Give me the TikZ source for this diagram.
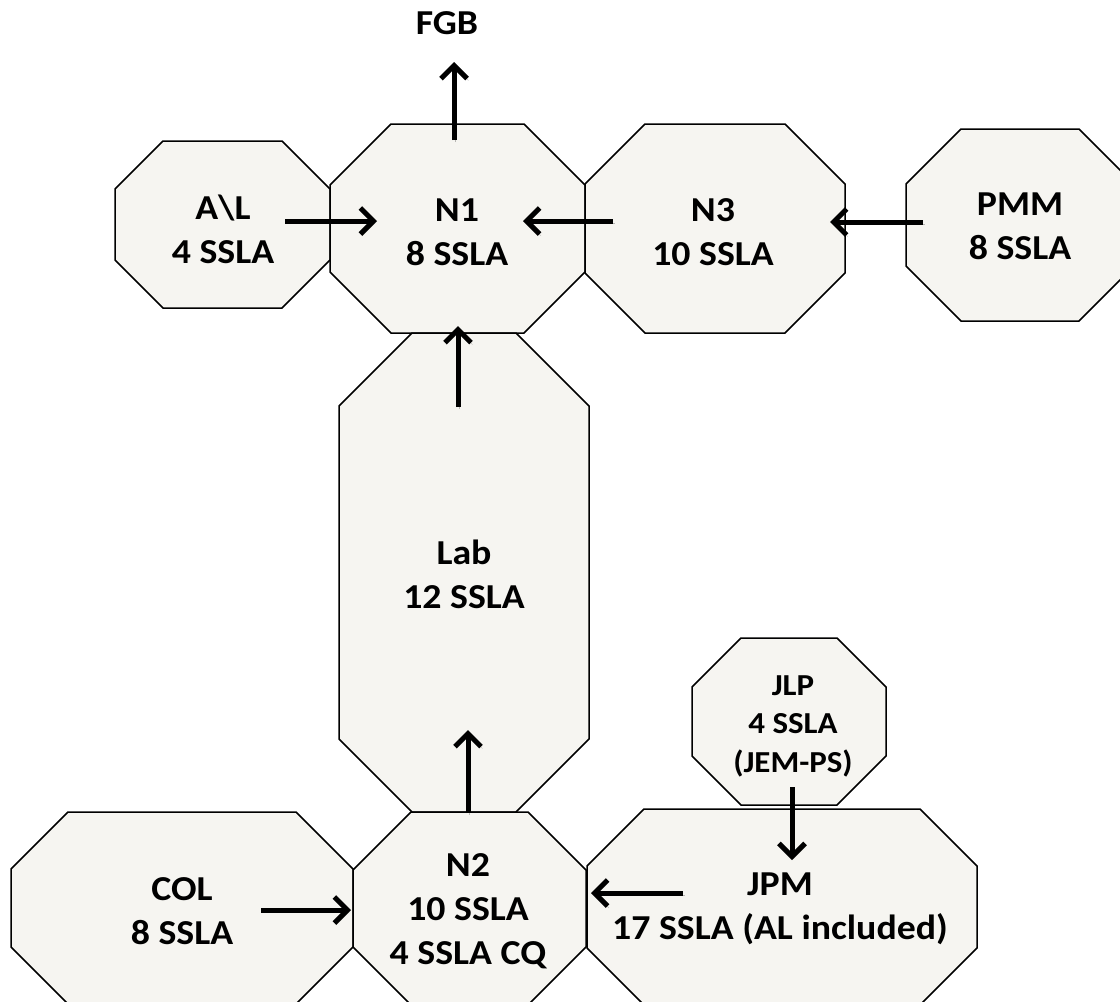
\documentclass[tikz,border=0pt]{standalone}
\usepackage{fontspec}
\setmainfont{Carlito}[FakeStretch=1.08]
\usetikzlibrary{arrows.meta,calc}
\definecolor{octfill}{RGB}{246,245,241}
\tikzset{
  oct/.style={draw=black, line width=1.5pt, fill=octfill, line join=miter},
  lbl/.style={align=center, font=\fontsize{35}{44}\selectfont\bfseries, inner sep=0pt},
  lblsmall/.style={align=center, font=\fontsize{30.5}{38.5}\selectfont\bfseries, inner sep=0pt},
  arr/.style={line width=5pt, -{Straight Barb[length=13pt,width=26pt]},
    preaction={draw=black, opacity=0.25, transform canvas={shift={(1.5pt,-2pt)}}}},
}
\newcommand\oct[5]{\path[oct] (#1+#5,#2) -- (#3-#5,#2) -- (#3,#2+#5) -- (#3,#4-#5) -- (#3-#5,#4) -- (#1+#5,#4) -- (#1,#4-#5) -- (#1,#2+#5) -- cycle;}
\begin{document}
\begin{tikzpicture}[x=1pt,y=-1pt]
\useasboundingbox (0,0) rectangle (1120,1002);
\clip (0,0) rectangle (1120,1002);
% octagons
\oct{115}{141}{330}{308}{48}
\oct{330}{124}{585}{333}{61}
\oct{585}{124}{845}{333}{60}
\oct{906}{129}{1134}{321}{55}
\oct{339}{333}{589}{812}{73}
\oct{692}{638}{886}{805}{49}
\oct{11}{812}{353}{1004}{57}
\oct{353}{812}{586}{1005}{58}
\oct{587}{809}{977}{1005}{57}
% labels
\node[lbl] (FGB) at (447,23) {FGB};
\node[lbl] (AL) at (223,229) {A\textbackslash L\\4 SSLA};
\node[lbl] (N1) at (457,232) {N1\\8 SSLA};
\node[lbl] (N3) at (713,232) {N3\\10 SSLA};
\node[lbl] (PMM) at (1020,226) {PMM\\8 SSLA};
\node[lbl] (Lab) at (464,574) {Lab\\12 SSLA};
\node[lblsmall] (JLP) at (793,726) {JLP\\4 SSLA\\(JEM-PS)};
\node[lbl] (COL) at (182,911) {COL\\8 SSLA};
\node[lbl] (N2) at (468,911) {N2\\10 SSLA\\4 SSLA CQ};
\node[lbl] (JPM) at (780,909) {JPM\\17 SSLA (AL included)};
% connectors
\draw[arr] ($(N1)+(-3,-92)$) -- ($(FGB)+(7,39)$);
\draw[arr] ($(AL)+(62,-8)$) -- ($(N1)+(-80,-11)$);
\draw[arr] ($(N3)+(-100,-11)$) -- ($(N1)+(66,-11)$);
\draw[arr] ($(PMM)+(-97,-4)$) -- ($(N3)+(117,-10)$);
\draw[arr] ($(Lab)+(-6,-167)$) -- ($(N1)+(1,94)$);
\draw[arr] ($(N2)+(0,-98)$) -- ($(Lab)+(4,156)$);
\draw[arr] ($(JLP)+(-1,61)$) -- ($(JPM)+(12,-49)$);
\draw[arr] ($(JPM)+(-97,-16)$) -- ($(N2)+(123,-18)$);
\draw[arr] ($(COL)+(79,-1)$) -- ($(N2)+(-117,-1)$);
\end{tikzpicture}
\end{document}
